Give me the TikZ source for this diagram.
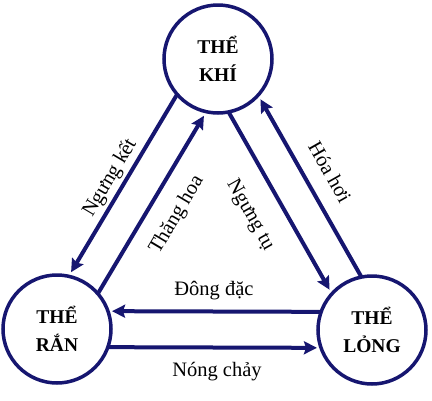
\documentclass[tikz,border=0pt]{standalone}
\usepackage{fontspec}
\setmainfont{Liberation Serif}
\usetikzlibrary{calc,arrows.meta}
\definecolor{navy}{RGB}{22,22,112}
\tikzset{
  state/.style={circle,draw=navy,line width=3.5pt,minimum size=108pt,inner sep=0pt,outer sep=0pt,
    align=center,font=\fontsize{19.5}{23}\selectfont\bfseries},
  conn/.style={draw=navy,line width=4pt,-{Stealth[length=13pt,width=13pt,inset=2pt]},
    shorten >=56pt,shorten <=50pt},
  lbl/.style={font=\fontsize{20.5}{24}\selectfont,inner sep=0pt}
}
\begin{document}
\begin{tikzpicture}[x=1pt,y=-1pt]
\useasboundingbox (0,0) rectangle (432,400);
\node[state] (K) at (218,59) {THỂ\\[5pt]KHÍ};
\node[state] (R) at (57,329) {THỂ\\[5pt]RẮN};
\node[state] (L) at (372,330) {THỂ\\[5pt]LỎNG};
% left edge
\draw[conn] ($(K)!17pt!-90:(R)$) -- ($(R)!17pt!90:(K)$);
\draw[conn] ($(R)!17pt!-90:(K)$) -- ($(K)!17pt!90:(R)$);
% right edge
\draw[conn] ($(K)!17pt!-90:(L)$) -- ($(L)!17pt!90:(K)$);
\draw[conn] ($(L)!17pt!-90:(K)$) -- ($(K)!17pt!90:(L)$);
% bottom edge
\draw[conn,shorten >=55pt] ($(L)!18pt!-90:(R)$) -- ($(R)!18pt!90:(L)$);
\draw[conn,shorten >=55pt] ($(R)!18pt!-90:(L)$) -- ($(L)!18pt!90:(R)$);
% labels
\node[lbl,rotate=59.3] (l1) at (110,178) {Ngưng kết};
\node[lbl,rotate=59.3] (l2) at (177,215) {Thăng hoa};
\node[lbl,rotate=-60.5] (l3) at (250,215) {Ngưng tụ};
\node[lbl,rotate=-60.5] (l4) at (330,172) {Hóa hơi};
\node[lbl] (l5) at (214,291) {Đông đặc};
\node[lbl] (l6) at (217,372) {Nóng chảy};
\end{tikzpicture}
\end{document}
